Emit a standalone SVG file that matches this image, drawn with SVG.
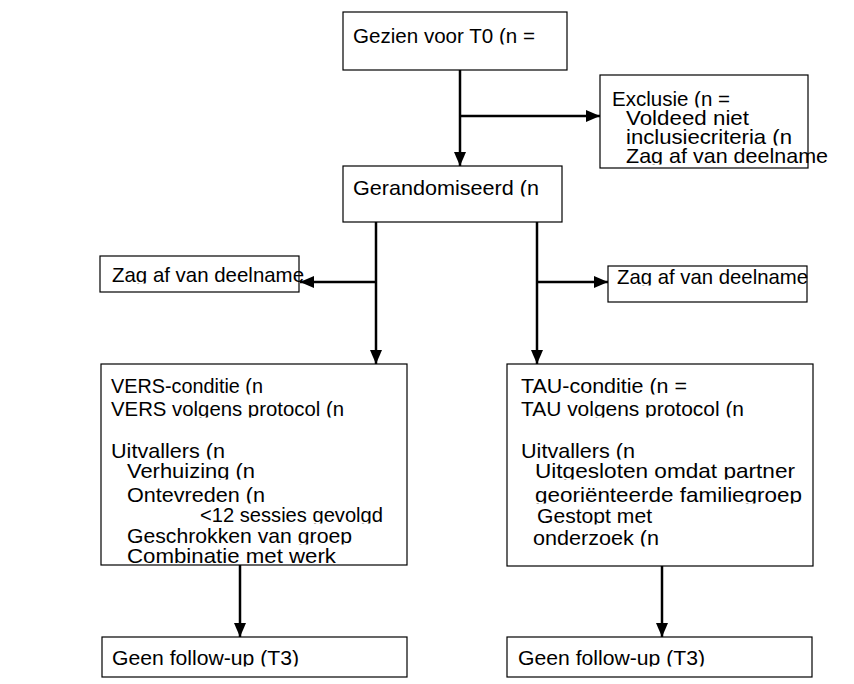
<svg xmlns="http://www.w3.org/2000/svg" width="854" height="684" viewBox="0 0 854 684">
<style>
.box{fill:#fff;stroke:#000;stroke-width:1.2}
.t{font-family:"Liberation Sans",Arial,sans-serif;font-size:21px;fill:#000;clip-path:url(#line)}
.c{fill:none;stroke:#000;stroke-width:2.5}
</style>
<defs>
<clipPath id="line" clipPathUnits="objectBoundingBox">
<rect x="-0.2" y="-0.2" width="1.4" height="1.09"/>
</clipPath>
<marker id="ah" markerUnits="userSpaceOnUse" markerWidth="14" markerHeight="12" refX="14" refY="6" orient="auto">
<path d="M0,0 L14,6 L0,12 z" fill="#000"/>
</marker>
</defs>
<rect width="854" height="684" fill="#fff"/>
<g id="connectors">
<line class="c" x1="460" y1="70" x2="460" y2="166" marker-end="url(#ah)"/>
<line class="c" x1="460" y1="116" x2="600" y2="116" marker-end="url(#ah)"/>
<line class="c" x1="376" y1="222" x2="376" y2="364" marker-end="url(#ah)"/>
<line class="c" x1="376" y1="282" x2="300" y2="282" marker-end="url(#ah)"/>
<line class="c" x1="537" y1="222" x2="537" y2="364" marker-end="url(#ah)"/>
<line class="c" x1="537" y1="282" x2="608" y2="282" marker-end="url(#ah)"/>
<line class="c" x1="240" y1="565" x2="240" y2="637" marker-end="url(#ah)"/>
<line class="c" x1="662" y1="566" x2="662" y2="637" marker-end="url(#ah)"/>
</g>
<g id="gezien">
<rect class="box" x="343" y="12" width="224" height="58"/>
<text class="t" x="353" y="43" textLength="182" lengthAdjust="spacingAndGlyphs">Gezien voor T0 (n =</text>
</g>
<g id="exclusie">
<rect class="box" x="600" y="75" width="208" height="93"/>
<text class="t" x="612" y="106" textLength="118" lengthAdjust="spacingAndGlyphs">Exclusie (n =</text>
<text class="t" x="626" y="125" textLength="123" lengthAdjust="spacingAndGlyphs">Voldeed niet</text>
<text class="t" x="626" y="144" textLength="166" lengthAdjust="spacingAndGlyphs">inclusiecriteria (n</text>
<text class="t" x="626" y="163" textLength="202" lengthAdjust="spacingAndGlyphs">Zag af van deelname</text>
</g>
<g id="gerandomiseerd">
<rect class="box" x="343" y="166" width="219" height="56"/>
<text class="t" x="353" y="195" textLength="186" lengthAdjust="spacingAndGlyphs">Gerandomiseerd (n</text>
</g>
<g id="zag-links">
<rect class="box" x="100" y="256" width="199" height="36"/>
<text class="t" x="112" y="282" textLength="192" lengthAdjust="spacingAndGlyphs">Zag af van deelname</text>
</g>
<g id="zag-rechts">
<rect class="box" x="608" y="266" width="199" height="36"/>
<text class="t" x="617" y="284" textLength="191" lengthAdjust="spacingAndGlyphs">Zag af van deelname</text>
</g>
<g id="vers">
<rect class="box" x="101" y="364" width="306" height="201"/>
<text class="t" x="111" y="393" textLength="152" lengthAdjust="spacingAndGlyphs">VERS-conditie (n</text>
<text class="t" x="111" y="416" textLength="233" lengthAdjust="spacingAndGlyphs">VERS volgens protocol (n</text>
<text class="t" x="111" y="458" textLength="114" lengthAdjust="spacingAndGlyphs">Uitvallers (n</text>
<text class="t" x="127" y="478" textLength="128" lengthAdjust="spacingAndGlyphs">Verhuizing (n</text>
<text class="t" x="127" y="502" textLength="138" lengthAdjust="spacingAndGlyphs">Ontevreden (n</text>
<text class="t" x="200" y="522" textLength="183" lengthAdjust="spacingAndGlyphs">&lt;12 sessies gevolgd</text>
<text class="t" x="127" y="543" textLength="225" lengthAdjust="spacingAndGlyphs">Geschrokken van groep</text>
<text class="t" x="127" y="563" textLength="209" lengthAdjust="spacingAndGlyphs">Combinatie met werk</text>
</g>
<g id="tau">
<rect class="box" x="507" y="364" width="306" height="202"/>
<text class="t" x="521" y="393" textLength="166" lengthAdjust="spacingAndGlyphs">TAU-conditie (n =</text>
<text class="t" x="521" y="416" textLength="223" lengthAdjust="spacingAndGlyphs">TAU volgens protocol (n</text>
<text class="t" x="521" y="458" textLength="114" lengthAdjust="spacingAndGlyphs">Uitvallers (n</text>
<text class="t" x="535" y="478" textLength="260" lengthAdjust="spacingAndGlyphs">Uitgesloten omdat partner</text>
<text class="t" x="535" y="502" textLength="267" lengthAdjust="spacingAndGlyphs">georiënteerde familiegroep</text>
<text class="t" x="537" y="523" textLength="115" lengthAdjust="spacingAndGlyphs">Gestopt met</text>
<text class="t" x="533" y="545" textLength="126" lengthAdjust="spacingAndGlyphs">onderzoek (n</text>
</g>
<g id="geen-vers">
<rect class="box" x="102" y="637" width="305" height="40"/>
<text class="t" x="112" y="665" textLength="187" lengthAdjust="spacingAndGlyphs">Geen follow-up (T3)</text>
</g>
<g id="geen-tau">
<rect class="box" x="507" y="637" width="305" height="40"/>
<text class="t" x="518" y="665" textLength="187" lengthAdjust="spacingAndGlyphs">Geen follow-up (T3)</text>
</g>
</svg>
